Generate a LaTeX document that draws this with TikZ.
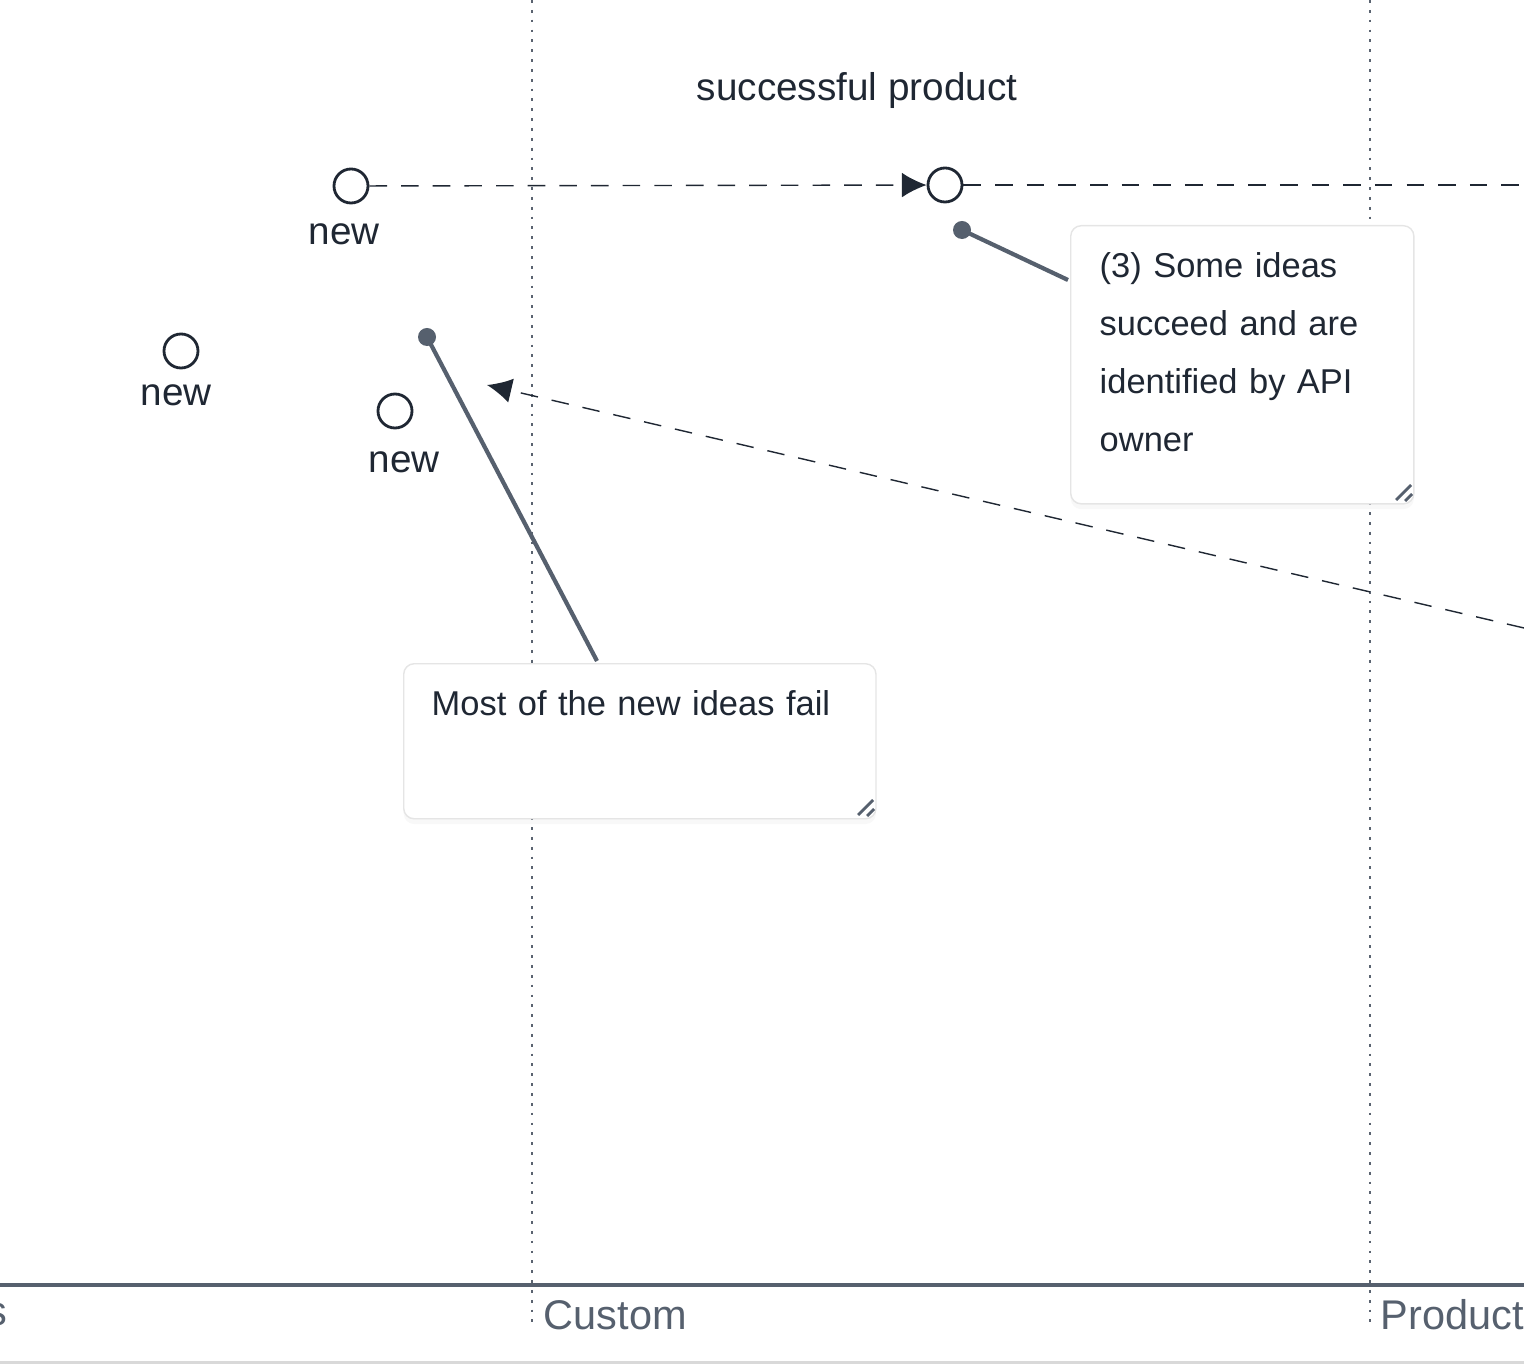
\documentclass[tikz,border=0pt]{standalone}
\usepackage{fontspec}
\setmainfont{Liberation Sans}
\usetikzlibrary{arrows.meta,shadows}
\definecolor{ink}{HTML}{1F2733}
\definecolor{slate}{HTML}{56606E}
\definecolor{guide}{HTML}{5A6370}
\tikzset{
  idea/.style={draw=ink, circle, thick, minimum size=0.34cm, inner sep=0pt},
  tag/.style={text=ink, font=\fontsize{11pt}{12pt}\selectfont},
  axislabel/.style={text=slate, anchor=west, inner sep=0pt, font=\fontsize{11.8pt}{13pt}\selectfont},
  note/.style={draw=black!10, fill=white, rounded corners=3pt, drop shadow={opacity=0.06, shadow xshift=0pt, shadow yshift=-1.5pt}},
  notetext/.style={text=ink, font=\fontsize{9.8pt}{16.5pt}\selectfont, align=left, anchor=north west, inner sep=0pt, text width=2.9cm},
  flow/.style={draw=ink, dashed, dash pattern=on 5pt off 4pt, -{Latex[length=7pt,width=7pt]}},
  pointer/.style={draw=slate, line width=1.2pt},
}
\begin{document}
\begin{tikzpicture}[x=0.01cm,y=-0.01cm]
\useasboundingbox (0,0) rectangle (1524,1364);
% guides and axis
\draw[guide, dotted, thick] (532,0) -- (532,1325);
\draw[guide, dotted, thick] (1370,0) -- (1370,1325);
\draw[slate, line width=1.2pt] (0,1285) -- (1524,1285);
\draw[black!15, line width=1pt] (0,1363) -- (1524,1363);
\node[axislabel] (custom) at (543,1315) {Custom};
\node[axislabel] (product) at (1380,1315) {Product};
\node[axislabel] (prev) at (-14,1315) {s};
% ideas
\node[idea] (a) at (351,186) {};
\node[idea] (b) at (945,185) {};
\node[idea] (c) at (181,351) {};
\node[idea] (d) at (395,411) {};
\node[tag] at (344,234) {new};
\node[tag] at (176,395) {new};
\node[tag] at (404,462) {new};
\node[tag] (succ) at (857,91) {successful product};
\coordinate (farright) at (1524,185);
\coordinate (farlow) at (1524,628);
\coordinate (tip) at (487,385);
\path[flow] (a) -- (b);
\path[draw=ink, dashed, dash pattern=on 5pt off 4pt] (b) -- (farright);
\path[flow] (farlow) -- (tip);
% notes
\node[note, minimum width=3.43cm, minimum height=2.78cm, anchor=north west] (n1) at (1070,225) {};
\node[notetext, text width=3cm] at (1099,252) {(3) Some ideas succeed and are identified by API owner};
\node[note, minimum width=4.72cm, minimum height=1.55cm, anchor=north west] (n2) at (403,663) {};
\node[notetext, text width=4.3cm] at (431,690) {Most of the new ideas fail};
\draw[slate, thick] (1396,500) -- (1411,485) (1405,501) -- (1412,494);
\draw[slate, thick] (858,815) -- (873,800) (867,816) -- (874,809);
% pointers
\coordinate (p1) at (962,230);
\coordinate (p2) at (427,337);
\path[pointer] (p1) -- (1068,280);
\path[pointer] (p2) -- (597,661);
\fill[slate] (p1) circle (0.09cm);
\fill[slate] (p2) circle (0.09cm);
\end{tikzpicture}
\end{document}
